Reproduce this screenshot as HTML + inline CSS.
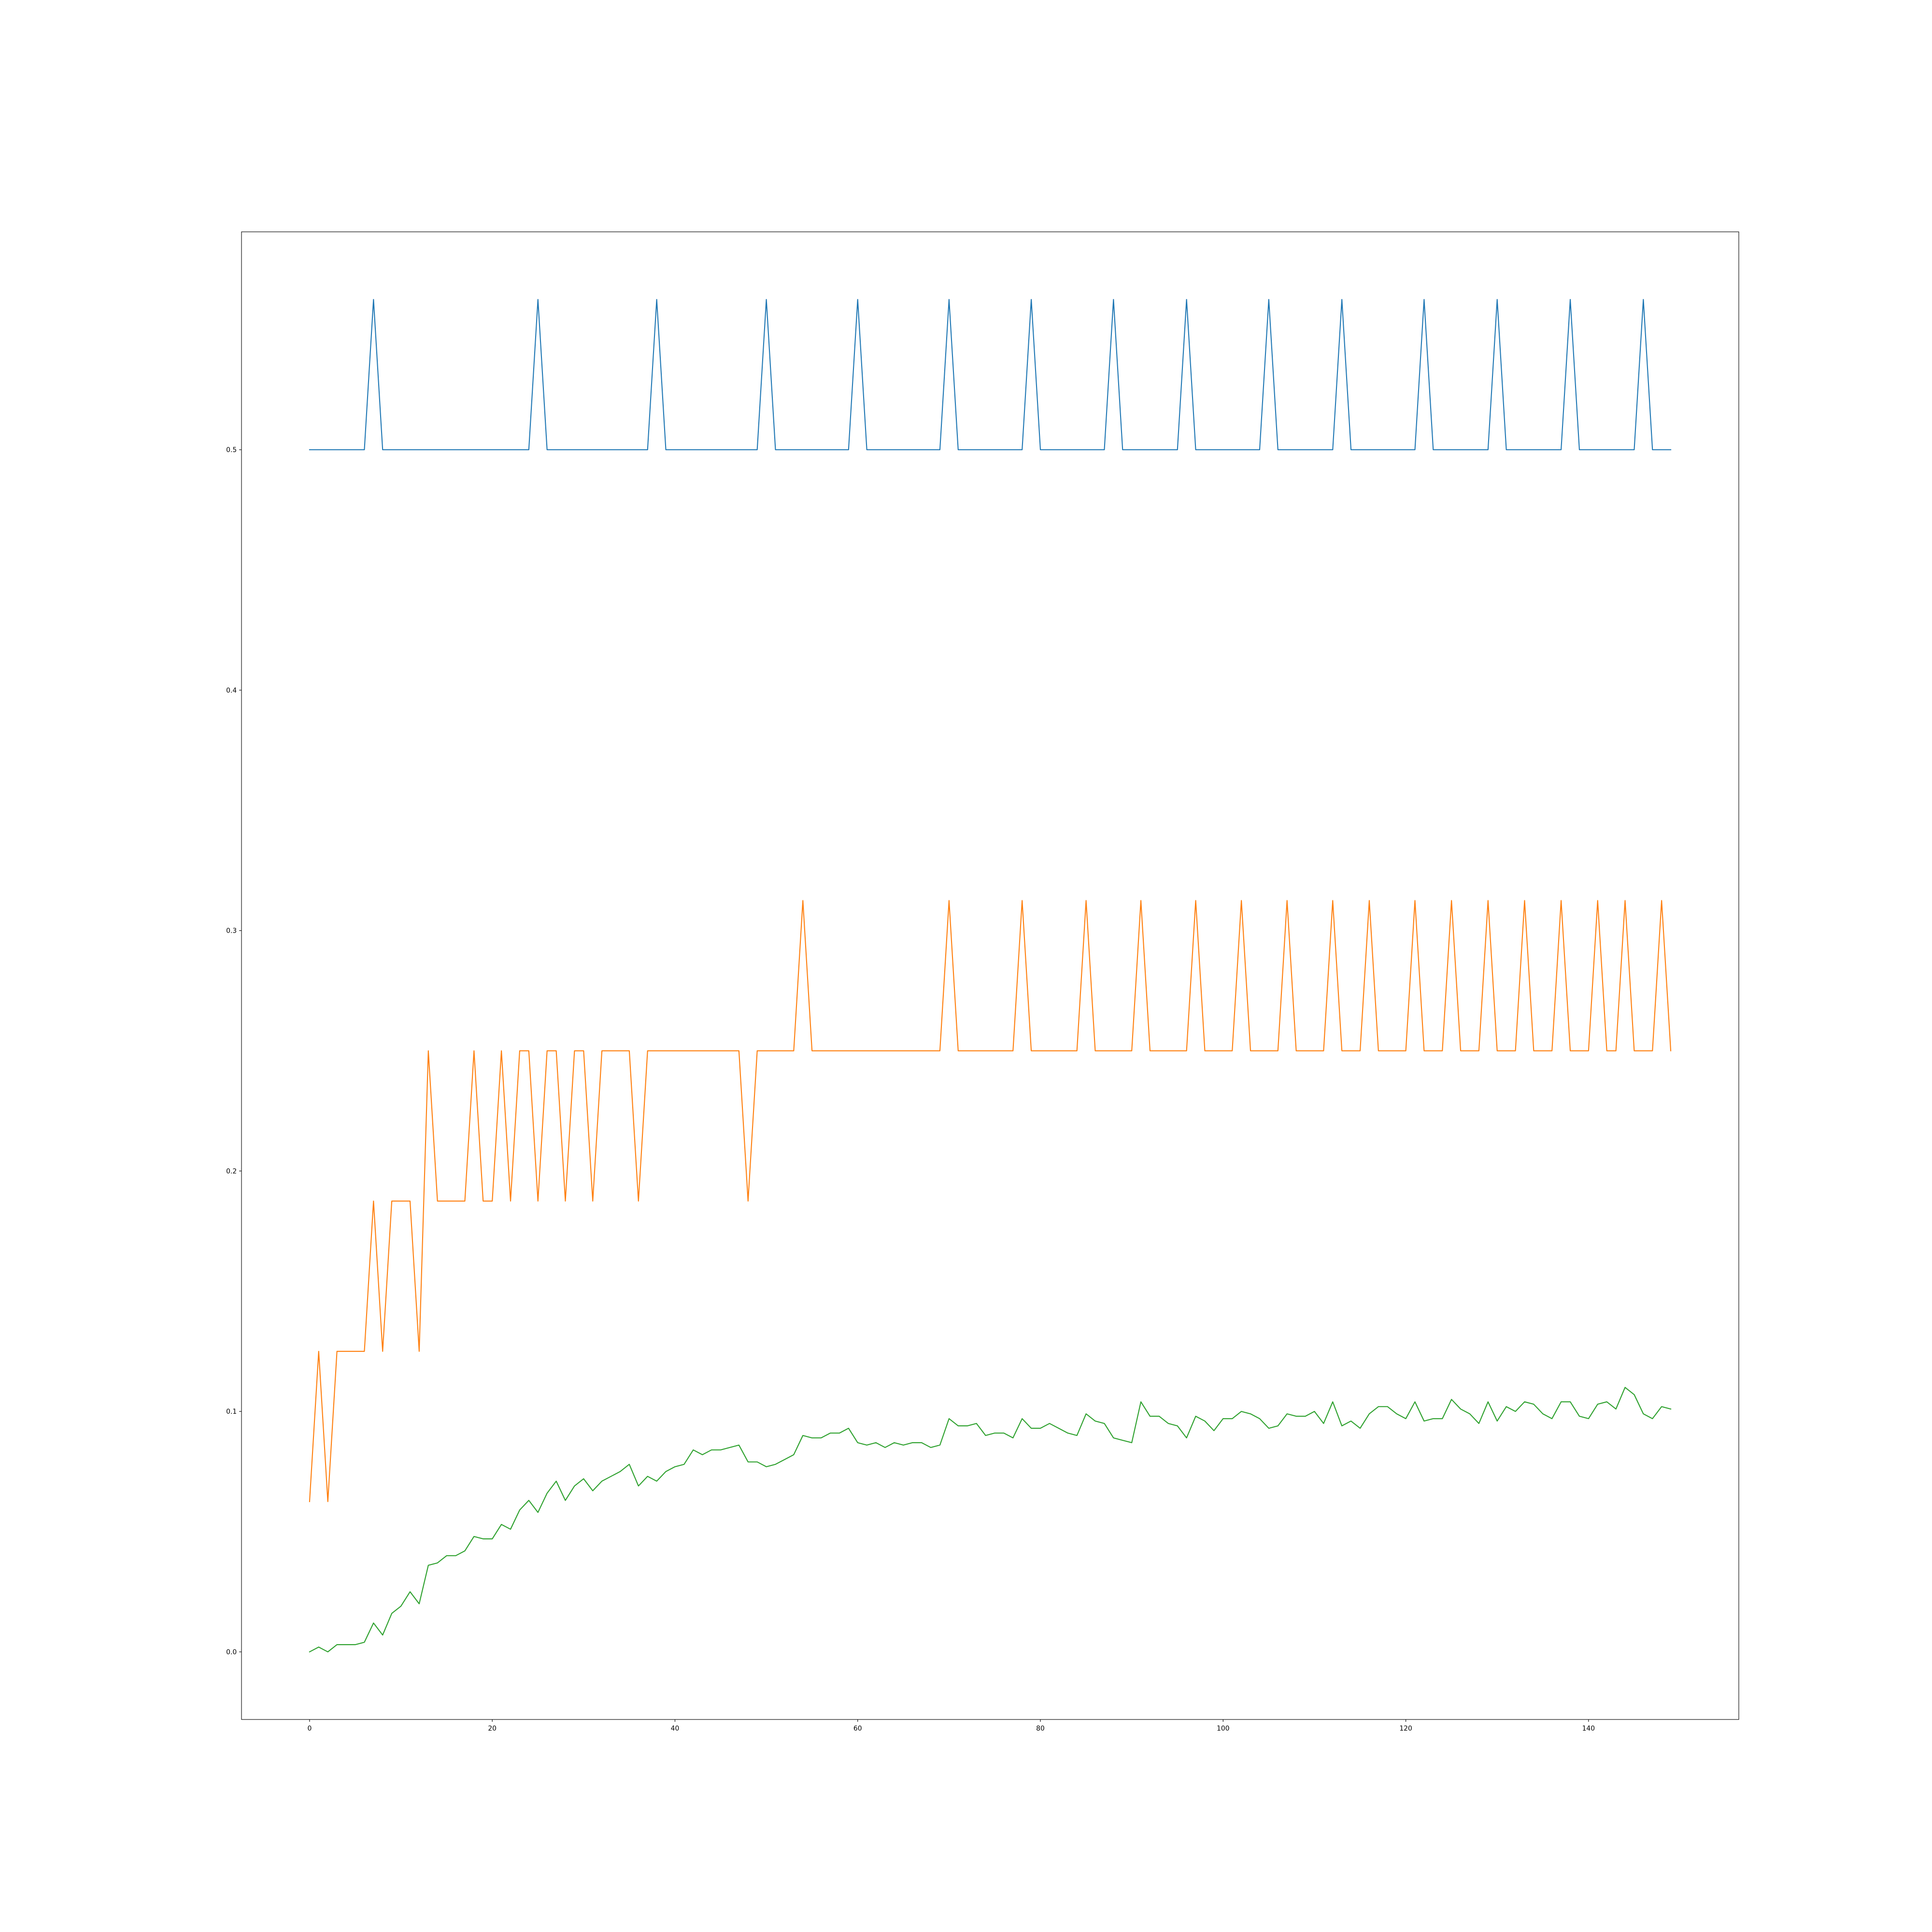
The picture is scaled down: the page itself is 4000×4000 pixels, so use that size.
<!DOCTYPE html>
<html><head><meta charset="utf-8"><style>html,body{margin:0;padding:0;background:#fff}svg{display:block}</style></head>
<body>
<svg id="chart" xmlns="http://www.w3.org/2000/svg" width="4000" height="4000" viewBox="0 0 4000 4000" font-family="'DejaVu Sans','Liberation Sans',sans-serif">
<rect width="4000" height="4000" fill="#fff"/>
<g id="plot"></g>
</svg>
<script>
const xTicks = [0,20,40,60,80,100,120,140];
const yTicks = [0.0,0.1,0.2,0.3,0.4,0.5];
const yTickLabels = ["0.0","0.1","0.2","0.3","0.4","0.5"];
const blueSpikes = [7,25,38,50,60,70,79,88,96,105,113,122,130,138,146];
const blueBase = 0.5, bluePeak = 0.5625;
const orangeStart = [0.0625,0.125,0.0625,0.125,0.125,0.125,0.125,0.1875,0.125,0.1875,0.1875,0.1875,0.125,0.25,0.1875,0.1875,0.1875,0.1875,0.25,0.1875,0.1875,0.25,0.1875,0.25,0.25,0.1875,0.25,0.25,0.1875,0.25,0.25,0.1875,0.25,0.25,0.25,0.25,0.1875,0.25,0.25,0.25,0.25,0.25,0.25,0.25,0.25,0.25,0.25,0.25,0.1875,0.25,0.25,0.25,0.25,0.25,0.3125];
const orangeSpikes = [70,78,85,91,97,102,107,112,116,121,125,129,133,137,141,144,148];
const green = [0,0.002,0,0.003,0.003,0.003,0.004,0.012,0.007,0.016,0.019,0.025,0.020,0.036,0.037,0.040,0.040,0.042,0.048,0.047,0.047,0.053,0.051,0.059,0.063,0.058,0.066,0.071,0.063,0.069,0.072,0.067,0.071,0.073,0.075,0.078,0.069,0.073,0.071,0.075,0.077,0.078,0.084,0.082,0.084,0.084,0.085,0.086,0.079,0.079,0.077,0.078,0.080,0.082,0.090,0.089,0.089,0.091,0.091,0.093,0.087,0.086,0.087,0.085,0.087,0.086,0.087,0.087,0.085,0.086,0.097,0.094,0.094,0.095,0.090,0.091,0.091,0.089,0.097,0.093,0.093,0.095,0.093,0.091,0.090,0.099,0.096,0.095,0.089,0.088,0.087,0.104,0.098,0.098,0.095,0.094,0.089,0.098,0.096,0.092,0.097,0.097,0.100,0.099,0.097,0.093,0.094,0.099,0.098,0.098,0.100,0.095,0.104,0.094,0.096,0.093,0.099,0.102,0.102,0.099,0.097,0.104,0.096,0.097,0.097,0.105,0.101,0.099,0.095,0.104,0.096,0.102,0.100,0.104,0.103,0.099,0.097,0.104,0.104,0.098,0.097,0.103,0.104,0.101,0.110,0.107,0.099,0.097,0.102,0.101];

const N = 150;
const blue = [];
for (let i=0;i<N;i++) blue.push(blueSpikes.includes(i)?bluePeak:blueBase);
const orange = [];
for (let i=0;i<N;i++) orange.push(i<orangeStart.length?orangeStart[i]:(orangeSpikes.includes(i)?0.3125:0.25));

const L=500,R=3600,T=480,B=3560;
const allY = blue.concat(orange,green);
const ymin=Math.min(...allY), ymax=Math.max(...allY);
const ypad=(ymax-ymin)*0.05, xpad=(N-1)*0.05;
const x0=-xpad, x1=N-1+xpad, y0=ymin-ypad, y1=ymax+ypad;
const sx=v=>L+(v-x0)/(x1-x0)*(R-L);
const sy=v=>B-(v-y0)/(y1-y0)*(B-T);
const NS="http://www.w3.org/2000/svg";
const g=document.getElementById('plot');
function mk(tag,attrs,parent){const e=document.createElementNS(NS,tag);for(const k in attrs)e.setAttribute(k,attrs[k]);(parent||g).appendChild(e);return e;}

function series(arr,color,name){
  const p=mk('polyline',{points:arr.map((v,i)=>sx(i).toFixed(2)+','+sy(v).toFixed(2)).join(' '),fill:'none',stroke:color,'stroke-width':2.08,'stroke-linejoin':'round','stroke-linecap':'square'});
  
  
}
series(blue,'#1f77b4','series-blue');
series(orange,'#ff7f0e','series-orange');
series(green,'#2ca02c','series-green');

const frame=mk('rect',{x:L,y:T,width:R-L,height:B-T,fill:'none',stroke:'#000','stroke-width':1.1});



xTicks.forEach(t=>{
  const x=sx(t);
  const tk=mk('line',{x1:x,x2:x,y1:B,y2:B+4.9,stroke:'#000','stroke-width':1.1});
  
  
  const tx=mk('text',{x:x,y:B+4.9+4.9+13,'font-size':13.9,'text-anchor':'middle',fill:'#000'});
  tx.textContent=String(t);
  
  
});
yTicks.forEach((t,i)=>{
  const y=sy(t);
  const tk=mk('line',{x1:L-4.9,x2:L,y1:y,y2:y,stroke:'#000','stroke-width':1.1});
  
  
  const tx=mk('text',{x:L-4.9-4.9,y:y+5,'font-size':13.9,'text-anchor':'end',fill:'#000'});
  tx.textContent=yTickLabels[i];
  
  
});
</script>
</body></html>
